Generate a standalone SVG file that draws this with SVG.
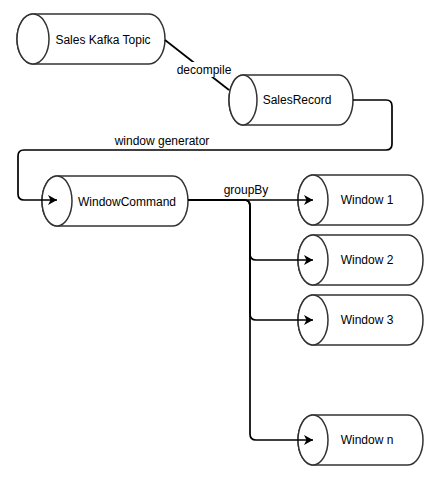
<svg xmlns="http://www.w3.org/2000/svg" width="443" height="490" viewBox="0 0 443 490">
<style>
.cyl{fill:#fff;stroke:#333;stroke-width:1.5}
.t{font-family:"Liberation Sans",Arial,sans-serif;font-size:12px;fill:#000;text-anchor:middle;dominant-baseline:central}
.e{fill:none;stroke:#000;stroke-width:1.7}
</style>
<defs>
<marker id="arr" markerUnits="userSpaceOnUse" markerWidth="12" markerHeight="12" refX="9" refY="6" orient="auto">
<path d="M0,1 L9,6 L0,11 L2.5,6 Z" fill="#000"/>
</marker>
</defs>
<g id="kafka">
<path class="cyl" d="M33,14 H149 A16,25 0 0 1 149,64 H33 A16,25 0 0 1 33,14 Z"/>
<ellipse class="cyl" cx="33" cy="39" rx="16" ry="25"/>
<text class="t" x="103" y="40">Sales Kafka Topic</text>
</g>
<g id="salesrecord">
<path class="cyl" d="M243,75 H339 A14,25 0 0 1 339,125 H243 A14,25 0 0 1 243,75 Z"/>
<ellipse class="cyl" cx="243" cy="100" rx="14" ry="25"/>
<text class="t" x="297" y="100">SalesRecord</text>
</g>
<g id="windowcommand">
<path class="cyl" d="M57,176 H173 A15,25 0 0 1 173,226 H57 A15,25 0 0 1 57,176 Z"/>
<ellipse class="cyl" cx="57" cy="201" rx="15" ry="25"/>
<text class="t" x="127" y="202">WindowCommand</text>
</g>
<g id="window1">
<path class="cyl" d="M313,175 H408 A15,25 0 0 1 408,225 H313 A15,25 0 0 1 313,175 Z"/>
<ellipse class="cyl" cx="313" cy="200" rx="15" ry="25"/>
<text class="t" x="367" y="200">Window 1</text>
</g>
<g id="window2">
<path class="cyl" d="M313,235 H408 A15,25 0 0 1 408,285 H313 A15,25 0 0 1 313,235 Z"/>
<ellipse class="cyl" cx="313" cy="260" rx="15" ry="25"/>
<text class="t" x="367" y="260">Window 2</text>
</g>
<g id="window3">
<path class="cyl" d="M313,295 H408 A15,25 0 0 1 408,345 H313 A15,25 0 0 1 313,295 Z"/>
<ellipse class="cyl" cx="313" cy="320" rx="15" ry="25"/>
<text class="t" x="367" y="320">Window 3</text>
</g>
<g id="windown">
<path class="cyl" d="M313,415 H408 A15,25 0 0 1 408,465 H313 A15,25 0 0 1 313,415 Z"/>
<ellipse class="cyl" cx="313" cy="440" rx="15" ry="25"/>
<text class="t" x="367" y="440">Window n</text>
</g>
<g id="edges">
<path class="e" d="M165,40 L229,90"/>
<rect x="175" y="62" width="58" height="15" fill="#fff"/>
<text class="t" x="204" y="70">decompile</text>
<path class="e" marker-end="url(#arr)" d="M353,100 H386 Q392,100 392,106 V144 Q392,150 386,150 H24 Q18,150 18,156 V194 Q18,200 24,200 H57"/>
<text class="t" x="162" y="141">window generator</text>
<path class="e" marker-end="url(#arr)" d="M188,200 H313"/>
<path class="e" marker-end="url(#arr)" d="M188,200 H244 Q250,200 250,206 V254 Q250,260 256,260 H313"/>
<path class="e" marker-end="url(#arr)" d="M188,200 H244 Q250,200 250,206 V314 Q250,320 256,320 H313"/>
<path class="e" marker-end="url(#arr)" d="M188,200 H244 Q250,200 250,206 V434 Q250,440 256,440 H313"/>
<text class="t" x="246" y="190">groupBy</text>
</g>
</svg>
